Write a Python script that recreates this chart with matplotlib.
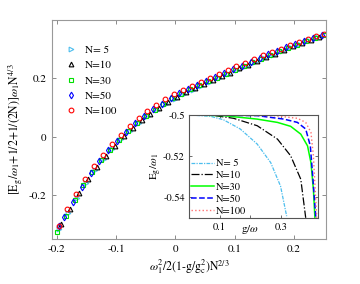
import matplotlib
matplotlib.use('Agg')
import matplotlib.pyplot as plt

plt.rcParams['font.family'] = 'STIXGeneral'
plt.rcParams['mathtext.fontset'] = 'stix'

# main panel: scaled data, one list pair per N
labels = ['N= 5', 'N=10', 'N=30', 'N=50', 'N=100']

x5 = [-0.196, -0.181, -0.166, -0.151, -0.136, -0.121, -0.106, -0.091, -0.076, -0.061,
      -0.046, -0.031, -0.016, -0.001, 0.014, 0.029, 0.044, 0.059, 0.074, 0.089,
      0.104, 0.119, 0.134, 0.149, 0.164, 0.179, 0.194, 0.209, 0.224, 0.239]
y5 = [-0.317, -0.262, -0.209, -0.159, -0.115, -0.076, -0.041, -0.008, 0.021, 0.047,
      0.071, 0.093, 0.112, 0.131, 0.147, 0.161, 0.175, 0.189, 0.203, 0.216,
      0.230, 0.243, 0.256, 0.269, 0.281, 0.294, 0.306, 0.318, 0.330, 0.341]

x10 = [-0.192, -0.177, -0.162, -0.147, -0.132, -0.117, -0.102, -0.087, -0.072, -0.057,
       -0.042, -0.027, -0.012, 0.003, 0.018, 0.033, 0.048, 0.063, 0.078, 0.093,
       0.108, 0.123, 0.138, 0.153, 0.168, 0.183, 0.198, 0.213, 0.228, 0.243]
y10 = [-0.299, -0.246, -0.193, -0.145, -0.102, -0.065, -0.030, 0.002, 0.030, 0.056,
       0.079, 0.100, 0.119, 0.137, 0.152, 0.166, 0.180, 0.194, 0.207, 0.220,
       0.234, 0.247, 0.260, 0.273, 0.285, 0.297, 0.310, 0.321, 0.333, 0.343]

x30 = [-0.200, -0.185, -0.170, -0.155, -0.140, -0.125, -0.110, -0.095, -0.080, -0.065,
       -0.050, -0.035, -0.020, -0.005, 0.010, 0.025, 0.040, 0.055, 0.070, 0.085,
       0.100, 0.115, 0.130, 0.145, 0.160, 0.175, 0.190, 0.205, 0.220, 0.235, 0.250]
y30 = [-0.327, -0.270, -0.217, -0.166, -0.120, -0.080, -0.044, -0.011, 0.019, 0.047,
       0.071, 0.093, 0.113, 0.132, 0.148, 0.163, 0.176, 0.190, 0.203, 0.216,
       0.229, 0.243, 0.255, 0.268, 0.280, 0.293, 0.305, 0.316, 0.328, 0.339, 0.350]

x50 = [-0.196, -0.188, -0.173, -0.158, -0.143, -0.128, -0.113, -0.098, -0.083, -0.068, -0.053,
       -0.038, -0.023, -0.008, 0.007, 0.022, 0.037, 0.052, 0.067, 0.082, 0.097,
       0.112, 0.127, 0.142, 0.157, 0.172, 0.187, 0.202, 0.217, 0.232, 0.247]
y50 = [-0.306, -0.275, -0.223, -0.171, -0.124, -0.082, -0.046, -0.013, 0.018, 0.046, 0.071,
       0.094, 0.114, 0.133, 0.150, 0.165, 0.178, 0.192, 0.205, 0.218, 0.231,
       0.244, 0.257, 0.270, 0.282, 0.294, 0.306, 0.318, 0.329, 0.339, 0.349]

x100 = [-0.197, -0.182, -0.167, -0.152, -0.137, -0.122, -0.107, -0.092, -0.077, -0.062,
        -0.047, -0.032, -0.017, -0.002, 0.013, 0.028, 0.043, 0.058, 0.073, 0.088,
        0.103, 0.118, 0.133, 0.148, 0.163, 0.178, 0.193, 0.208, 0.223, 0.238, 0.250]
y100 = [-0.304, -0.248, -0.196, -0.145, -0.101, -0.062, -0.026, 0.007, 0.036, 0.063,
        0.087, 0.108, 0.128, 0.146, 0.161, 0.175, 0.189, 0.202, 0.215, 0.228,
        0.241, 0.254, 0.266, 0.279, 0.290, 0.302, 0.313, 0.324, 0.335, 0.345, 0.353]

# inset: ground-state energy vs g/omega
gx5 = [0.0, 0.069, 0.112, 0.167, 0.222, 0.266, 0.298, 0.318]
gy5 = [-0.5, -0.5006, -0.5023, -0.5068, -0.5141, -0.5231, -0.5345, -0.5491]
gx10 = [0.0, 0.069, 0.145, 0.222, 0.288, 0.331, 0.364, 0.380]
gy10 = [-0.5, -0.5, -0.5016, -0.5052, -0.5117, -0.5198, -0.5312, -0.5499]
gx30 = [0.0, 0.112, 0.222, 0.288, 0.331, 0.364, 0.386, 0.397, 0.405, 0.410]
gy30 = [-0.5, -0.5003, -0.5020, -0.5036, -0.5055, -0.5093, -0.5150, -0.5231, -0.5361, -0.5499]
gx50 = [0.0, 0.222, 0.309, 0.353, 0.380, 0.395, 0.402, 0.413]
gy50 = [-0.5, -0.5003, -0.5020, -0.5036, -0.5068, -0.5150, -0.5280, -0.5499]
gx100 = [0.0, 0.276, 0.353, 0.380, 0.397, 0.405, 0.416]
gy100 = [-0.5, -0.5003, -0.5016, -0.5036, -0.5084, -0.5198, -0.5499]

fig = plt.figure(figsize=(3.6, 2.84), dpi=100)
ax = fig.add_axes([0.1444, 0.1585, 0.7611, 0.7711])

colors = ['#4DBEEE', 'black', '#00E000', '#0000FF', '#FF0000']
markers = ['>', '^', 's', 'd', 'o']
series = [(x5, y5), (x10, y10), (x30, y30), (x50, y50), (x100, y100)]
for (xs, ys), c, m, lab in zip(series, colors, markers, labels):
    ax.plot(xs, ys, linestyle='none', marker=m, mfc='none', mec=c,
            markersize=3.4, markeredgewidth=0.8, label=lab)

ax.set_xlim(-0.208, 0.254)
ax.set_ylim(-0.35, 0.4)
ax.set_xticks([-0.2, -0.1, 0, 0.1, 0.2])
ax.set_xticklabels(['-0.2', '-0.1', '0', '0.1', '0.2'])
ax.set_yticks([-0.2, 0, 0.2])
ax.set_yticklabels(['-0.2', '0', '0.2'])
ax.tick_params(direction='in', top=True, right=True, length=3, width=0.6,
               labelsize=8, color='#777777', pad=4)
for s in ax.spines.values():
    s.set_color('#999999')
    s.set_linewidth(0.8)
ax.set_xlabel(r'$\omega_1^2/2(1$-$\mathrm{g/g_c^2})\mathrm{N}^{2/3}$', fontsize=8.5, labelpad=2)
ax.set_ylabel(r'$[\mathrm{E_g}/\omega_1$+1/2+1/(2N)]$\omega_1\mathrm{N}^{4/3}$', fontsize=8.5, labelpad=3)
ax.legend(loc='upper left', bbox_to_anchor=(0.03, 0.915), frameon=False, fontsize=8,
          handlelength=0.8, handletextpad=0.8, labelspacing=0.5, borderaxespad=0.2)

# inset
ins = fig.add_axes([0.525, 0.2324, 0.3583, 0.3627])
ins.plot(gx5, gy5, color='#4DBEEE', lw=0.9, linestyle=(0, (3, 1, 1, 1)), label='N= 5')
ins.plot(gx10, gy10, color='black', lw=0.9, linestyle='-.', label='N=10')
ins.plot(gx30, gy30, color='#00FF00', lw=1.1, linestyle='-', label='N=30')
ins.plot(gx50, gy50, color='#0000FF', lw=1.1, linestyle='--', label='N=50')
ins.plot(gx100, gy100, color='#FF7070', lw=1.0, linestyle=':', label='N=100')
ins.set_xlim(0, 0.42)
ins.set_ylim(-0.55, -0.5)
ins.set_xticks([0.1, 0.2, 0.3])
ins.set_xticklabels(['0.1', '', '0.3'])
ins.set_yticks([-0.54, -0.52, -0.5])
ins.set_yticklabels(['-0.54', '-0.52', '-0.5'])
ins.tick_params(direction='in', top=True, right=True, length=2.5, width=0.6,
                labelsize=7.5, color='#555555', pad=3)
for s in ins.spines.values():
    s.set_color('#555555')
    s.set_linewidth(0.8)
ins.set_xlabel(r'$\mathrm{g}/\omega$', fontsize=8)
ins.xaxis.set_label_coords(0.476, -0.045)
ins.set_ylabel(r'$\mathrm{E_g}/\omega_1$', fontsize=8, labelpad=-1)
ins.legend(loc='lower left', frameon=False, fontsize=7.5, handlelength=2.2,
           handletextpad=0.2, labelspacing=0.22, borderaxespad=0.1, borderpad=0.1)

fig.savefig('out.png', dpi=100)
